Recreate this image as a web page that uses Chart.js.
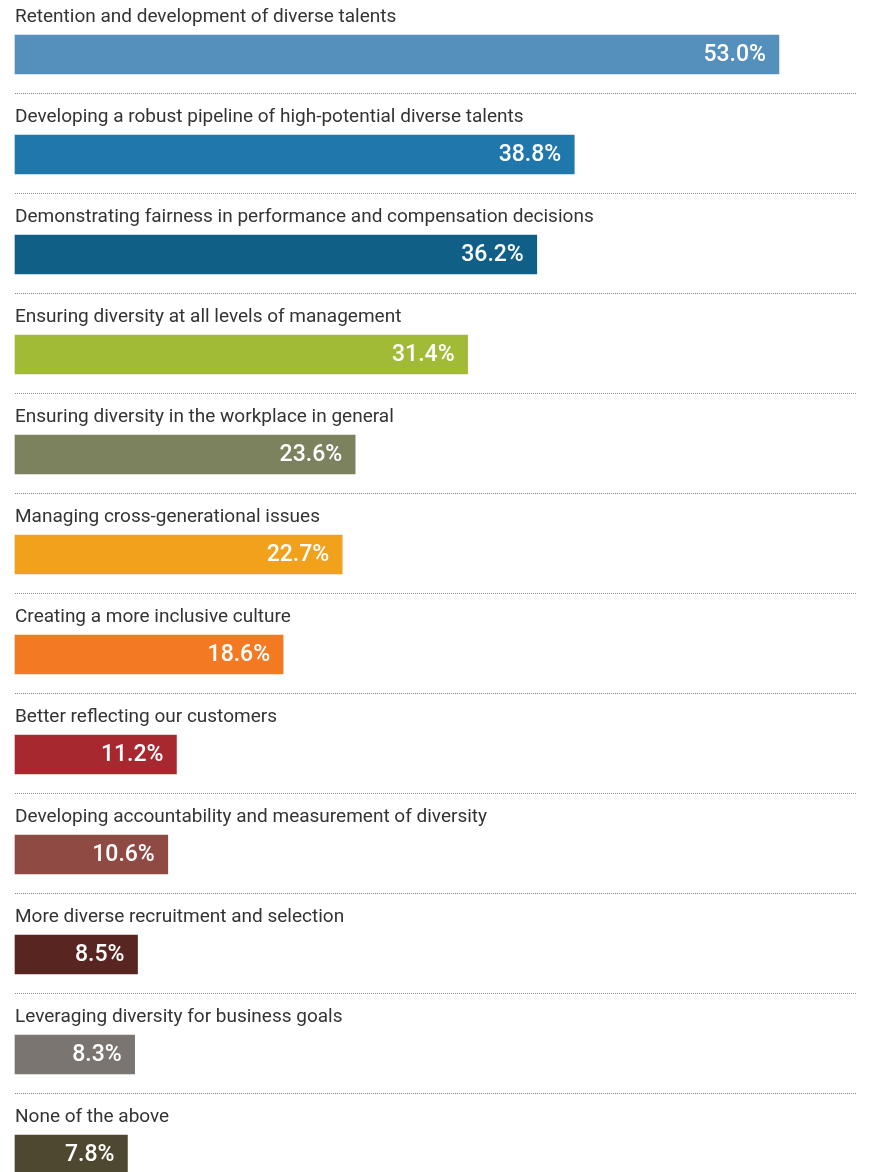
<!DOCTYPE html>
<html>
<head>
<meta charset="utf-8">
<style>
  html, body { margin: 0; padding: 0; background: #fff; overflow: hidden; }
  #wrap { position: relative; width: 875px; height: 1172px; }
</style>
<script src="https://cdn.jsdelivr.net/npm/chart.js@4/dist/chart.umd.min.js"></script>
</head>
<body>
<div id="wrap"><canvas id="chart"></canvas></div>
<script>
// Chart data
const categories = [
  'Retention and development of diverse talents',
  'Developing a robust pipeline of high-potential diverse talents',
  'Demonstrating fairness in performance and compensation decisions',
  'Ensuring diversity at all levels of management',
  'Ensuring diversity in the workplace in general',
  'Managing cross-generational issues',
  'Creating a more inclusive culture',
  'Better reflecting our customers',
  'Developing accountability and measurement of diversity',
  'More diverse recruitment and selection',
  'Leveraging diversity for business goals',
  'None of the above'
];
const values = [53.0, 38.8, 36.2, 31.4, 23.6, 22.7, 18.6, 11.2, 10.6, 8.5, 8.3, 7.8];
const barColors = [
  '#558fbb', '#1f77ac', '#0f5f87', '#a2bb37', '#7b825d', '#f2a11d',
  '#f37a22', '#a8282f', '#8f4a43', '#582520', '#7a7570', '#4e4830'
];

// Labels above bars, values inside, dotted separators
const rowDecor = {
  id: 'rowDecor',
  afterDatasetsDraw(chart) {
    const ctx = chart.ctx;
    const meta = chart.getDatasetMeta(0);
    meta.data.forEach((bar, i) => {
      const top = bar.y - bar.height / 2;
      const bottom = bar.y + bar.height / 2;
      ctx.save();
      ctx.fillStyle = '#333333';
      ctx.font = '19px Roboto';
      ctx.textAlign = 'left';
      ctx.textBaseline = 'alphabetic';
      ctx.fillText(categories[i], 15, top - 13);

      ctx.fillStyle = '#ffffff';
      ctx.font = '500 23px Roboto';
      ctx.textAlign = 'right';
      ctx.textBaseline = 'middle';
      ctx.fillText(values[i].toFixed(1) + '%', bar.x - 13, bar.y + 1);

      if (i < meta.data.length - 1) {
        ctx.strokeStyle = '#8a8a8a';
        ctx.lineWidth = 1;
        ctx.setLineDash([1, 1]);
        ctx.beginPath();
        ctx.moveTo(15, Math.round(bottom + 19) + 0.5);
        ctx.lineTo(856, Math.round(bottom + 19) + 0.5);
        ctx.stroke();
      }
      ctx.restore();
    });
  }
};

new Chart(document.getElementById('chart'), {
  type: 'bar',
  data: {
    labels: categories,
    datasets: [{
      data: values,
      backgroundColor: barColors,
      barThickness: 39,
      clip: false
    }]
  },
  options: {
    indexAxis: 'y',
    responsive: true,
    maintainAspectRatio: false,
    animation: false,
    layout: { padding: { left: 15, right: 24, top: 54.5, bottom: 17.5 } },
    plugins: { legend: { display: false }, tooltip: { enabled: false } },
    scales: {
      x: { display: false, min: 0, max: 58 },
      y: { display: false, offset: false }
    }
  },
  plugins: [rowDecor]
});
</script>
</body>
</html>
